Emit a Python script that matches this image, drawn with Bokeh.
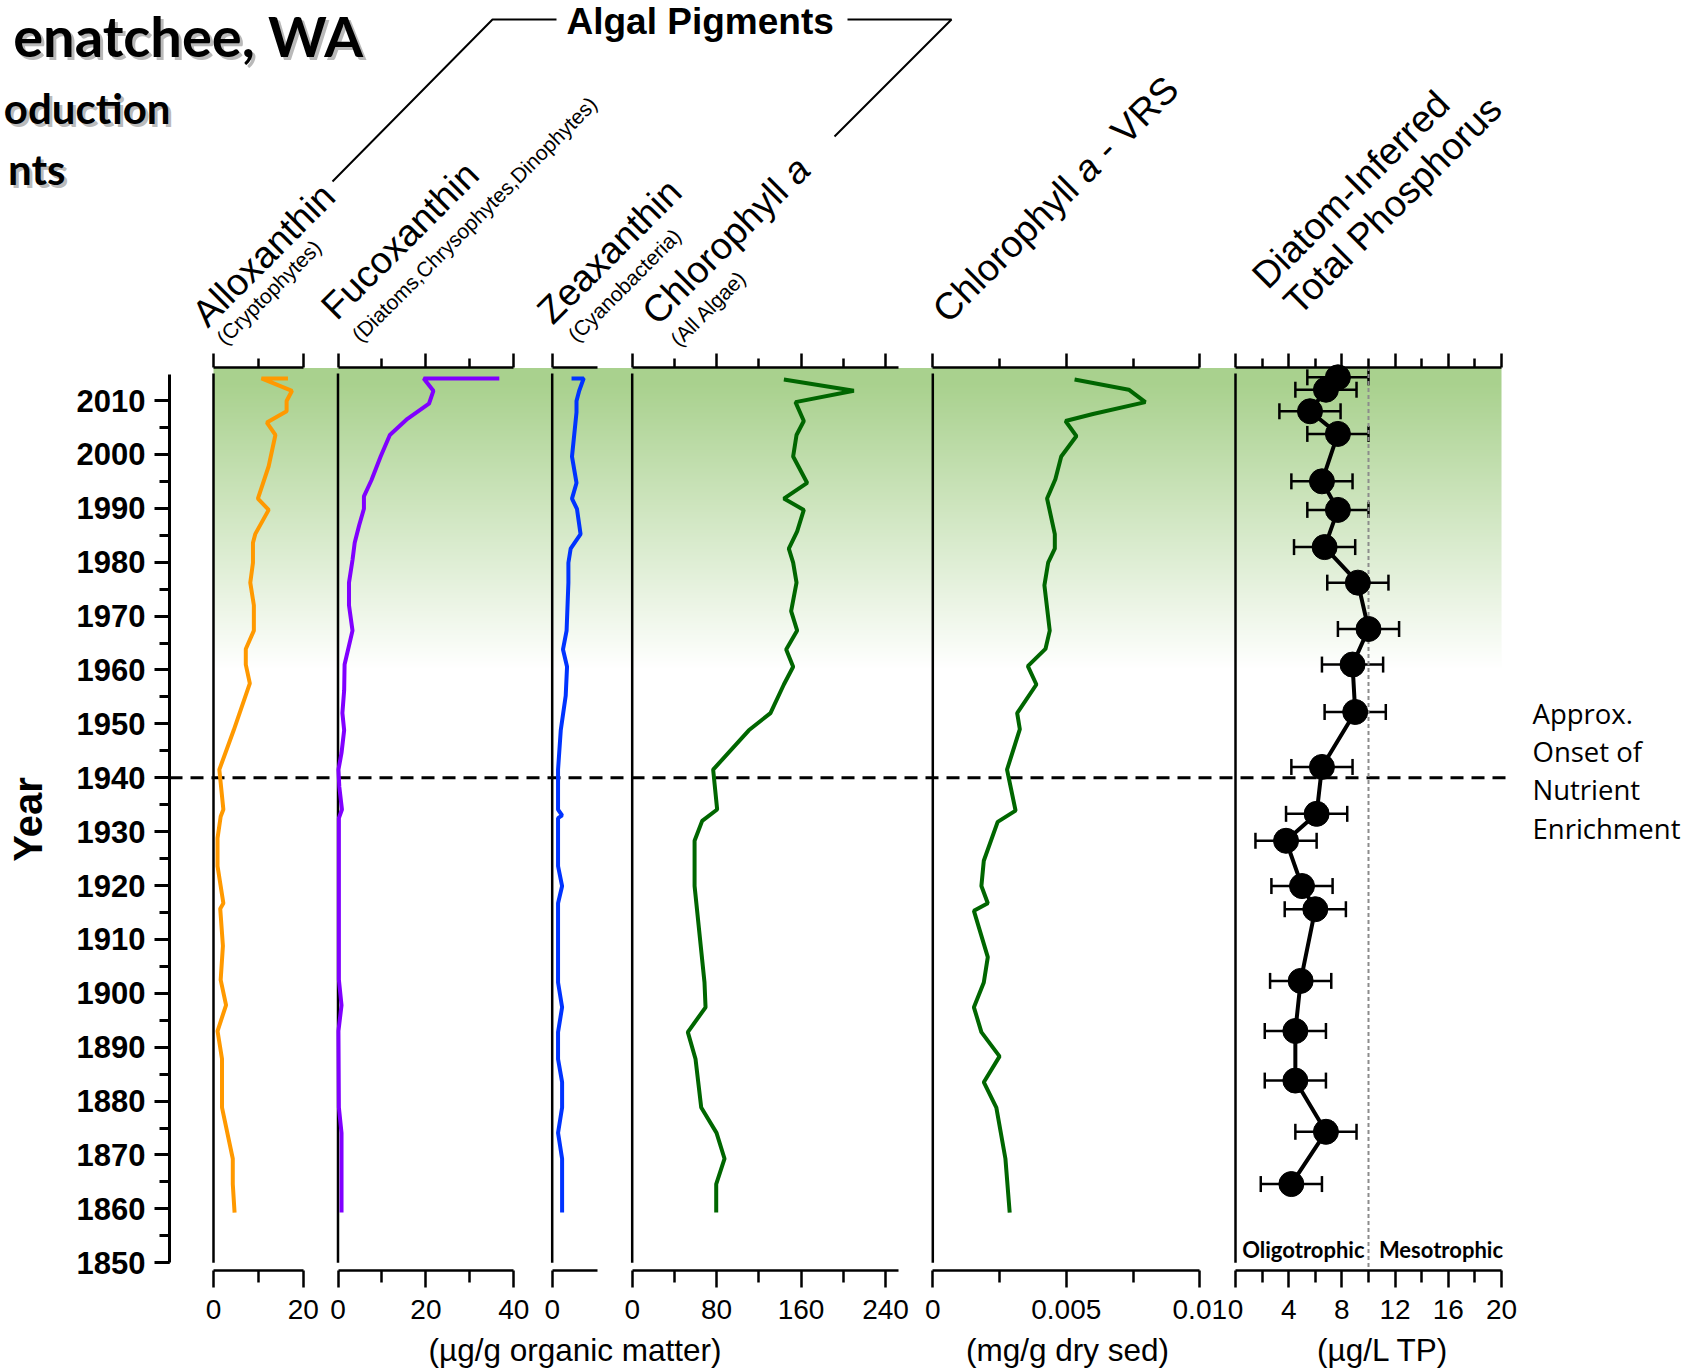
import numpy as np
from math import pi
from bokeh.plotting import figure
from bokeh.models import (Range1d, LinearAxis, FixedTicker, SingleIntervalTicker,
                          CustomJSTickFormatter, ColumnDataSource, Whisker, TeeHead)
from bokeh.core.properties import value
from bokeh.embed import file_html
from bokeh.resources import INLINE

# ---------------- sediment-core data ----------------
allo_year = [2014.1, 2014.1, 2011.8, 2009.9, 2008.0, 2005.9, 2003.6, 1997.8, 1991.8, 1989.7,
             1985.2, 1983.6, 1979.9, 1976.2, 1972.0, 1967.3, 1963.9, 1961.0, 1957.5, 1948.8,
             1941.5, 1934.1, 1932.8, 1928.8, 1923.6, 1916.7, 1915.7, 1908.8, 1902.5, 1897.8,
             1893.0, 1887.8, 1878.8, 1869.3, 1864.6, 1859.3]
allo = [16.6, 10.7, 17.5, 16.3, 16.3, 11.9, 13.8, 12.3, 9.9, 12.3,
        9.3, 8.8, 8.8, 8.2, 9.0, 9.0, 7.2, 7.2, 8.1, 4.5,
        1.3, 2.2, 1.6, 0.9, 0.9, 2.2, 1.5, 2.1, 1.6, 2.8,
        0.9, 1.9, 1.9, 4.3, 4.3, 4.7]

fuco_year = [2014.1, 2014.1, 2011.8, 2009.4, 2006.6, 2003.6, 1999.6, 1995.2, 1992.2, 1989.9,
             1986.8, 1983.6, 1980.4, 1976.2, 1972.0, 1967.3, 1961.0, 1956.2, 1952.0, 1948.8,
             1944.6, 1941.5, 1938.3, 1934.1, 1932.5, 1902.5, 1897.8, 1893.0, 1878.8, 1874.1,
             1859.3]
fuco = [36.7, 19.5, 21.7, 20.7, 15.8, 11.8, 9.7, 7.6, 5.9, 5.9,
        4.8, 3.8, 3.3, 2.5, 2.5, 3.3, 1.5, 1.4, 1.0, 1.4,
        0.8, 0.1, 0.3, 0.9, 0.2, 0.2, 0.8, 0.1, 0.2, 0.8,
        0.8]

zea_year = [2014.1, 2014.1, 2011.8, 2009.9, 2007.8, 1999.6, 1994.7, 1991.8, 1989.9, 1985.2,
            1982.5, 1979.9, 1976.2, 1967.3, 1963.8, 1960.6, 1955.2, 1948.8, 1941.5, 1934.1,
            1933.0, 1932.5, 1923.6, 1919.9, 1916.7, 1902.0, 1897.4, 1892.8, 1887.8, 1883.5,
            1878.8, 1874.1, 1869.3, 1859.3]
zea = [4.3, 7.0, 6.0, 5.4, 5.4, 4.4, 5.4, 4.4, 5.5, 6.3,
       4.1, 3.6, 3.6, 3.2, 2.4, 3.3, 3.0, 1.9, 1.3, 1.3,
       2.2, 1.3, 1.3, 2.2, 1.3, 1.3, 2.2, 1.3, 1.3, 2.2,
       2.2, 1.3, 2.2, 2.2]

chla_year = [2013.9, 2011.8, 2009.7, 2006.2, 2003.6, 1999.6, 1994.7, 1991.8, 1989.7, 1985.7,
             1982.5, 1979.9, 1976.2, 1970.9, 1967.3, 1963.8, 1960.6, 1957.3, 1952.0, 1948.8,
             1941.5, 1934.1, 1932.0, 1928.3, 1919.9, 1902.0, 1897.4, 1892.8, 1887.8, 1878.8,
             1874.1, 1869.3, 1864.6, 1859.3]
chla = [143.7, 210.0, 154.7, 162.6, 155.7, 152.5, 165.8, 143.7, 162.6, 156.3,
        148.4, 152.5, 155.7, 150.6, 156.3, 145.9, 152.5, 143.7, 131.0, 110.5,
        76.7, 80.5, 66.3, 59.1, 59.1, 68.5, 69.5, 52.7, 60.0, 65.4,
        79.9, 87.5, 79.6, 79.6]

vrs_year = [2013.9, 2012.0, 2009.7, 2007.5, 2006.2, 2003.4, 1999.6, 1995.4, 1991.8, 1985.2,
            1982.5, 1979.9, 1975.7, 1967.3, 1963.9, 1960.7, 1957.3, 1952.0, 1949.0, 1941.5,
            1933.9, 1931.8, 1924.6, 1919.9, 1916.7, 1915.3, 1906.7, 1902.0, 1897.4, 1892.8,
            1888.3, 1883.5, 1878.8, 1869.3, 1859.3]
vrs = [0.00531, 0.00734, 0.00796, 0.00600, 0.00497, 0.00538, 0.00481, 0.00459, 0.00428, 0.00457,
       0.00457, 0.00432, 0.00418, 0.00438, 0.00422, 0.00356, 0.00388, 0.00316, 0.00326, 0.00278,
       0.00310, 0.00243, 0.00191, 0.00182, 0.00206, 0.00154, 0.00206, 0.00191, 0.00154, 0.00182,
       0.00250, 0.00191, 0.00238, 0.00272, 0.00288]

tp_year = [2014.3, 2012.0, 2008.0, 2003.8, 1995.0, 1989.7, 1982.8, 1976.2, 1967.6, 1961.0,
           1952.2, 1942.0, 1933.3, 1928.3, 1919.9, 1915.6, 1902.3, 1893.0, 1883.8, 1874.3,
           1864.6]
tp = [7.7, 6.8, 5.6, 7.7, 6.5, 7.7, 6.7, 9.2, 10.0, 8.8,
      9.0, 6.5, 6.1, 3.8, 5.0, 6.0, 4.9, 4.5, 4.5, 6.8,
      4.2]
tp_err = [2.3, 2.3, 2.3, 2.3, 2.3, 2.3, 2.3, 2.3, 2.3, 2.3,
          2.3, 2.3, 2.3, 2.3, 2.3, 2.3, 2.3, 2.3, 2.3, 2.3,
          2.3]

ONSET_YEAR = 1940
TROPHIC_LIMIT = 10  # ug/L TP, oligotrophic / mesotrophic boundary

allo_ticks, allo_minor = [0, 20], [10]
fuco_ticks, fuco_minor = [0, 20, 40], [10, 30]
zea_ticks, zea_minor = [0], []
chla_ticks, chla_minor = [0, 80, 160, 240], [40, 120, 200]
vrs_ticks, vrs_minor = [0, 0.005, 0.01], [0.0025, 0.0075]
tp_ticks, tp_minor = [0, 4, 8, 12, 16, 20], [2, 6, 10, 14, 18]

# ---------------- canvas geometry ----------------
W, H = 1687, 1372
PX_PER_YEAR = 5.389
ROW_2010 = 400.0


def yr(row):
    """canvas row (from the top) -> year on the core axis"""
    return 2010.0 - (row - ROW_2010) / PX_PER_YEAR


def up(row):
    """canvas row (from the top) -> bottom-up pixel for the 'px' range"""
    return H - row


# value span of each panel and the canvas columns it occupies
PANELS = {
    "allo": ((0, 20), (213.0, 302.7)),
    "fuco": ((0, 40), (337.5, 513.3)),
    "zea": ((0, 10), (551.7, 596.7)),
    "chla": ((0, 240), (631.7, 885.0)),
    "vrs": ((0, 0.01), (932.3, 1199.3)),
    "tp": ((0, 20), (1235.0, 1501.0)),
}
AXIS_END = {"allo": 20, "fuco": 40, "zea": 10, "chla": 252, "vrs": 0.01, "tp": 20}


def panel_range(vals, cols):
    (d0, d1), (c0, c1) = vals, cols
    k = (d1 - d0) / (c1 - c0)
    return Range1d(d0 - c0 * k, d0 + (W - c0) * k)


p = figure(width=W, height=H, x_range=Range1d(0, W), y_range=Range1d(yr(H), yr(0)),
           x_axis_type=None, y_axis_type=None, toolbar_location=None,
           output_backend="svg", min_border=0, outline_line_color=None,
           background_fill_color="white", border_fill_color="white")
p.extra_x_ranges = {k: panel_range(*v) for k, v in PANELS.items()}
p.extra_y_ranges = {"px": Range1d(0, H)}

ARIAL_NAME = "Liberation Sans"
ARIAL = value(ARIAL_NAME)
LATO = value("Lato")
OPEN = value("Open Sans")

# ---------------- recent-enrichment shading ----------------
GREEN = (169, 209, 142)
fade_top, fade_bottom = 2013.0, 1960.0
g_top, g_bot = yr(367.5), 1955.0
n = 400
ys = np.linspace(g_bot, g_top, n)
frac = np.clip((fade_top - ys) / (fade_top - fade_bottom), 0, 1)
img = np.zeros((n, 2), dtype=np.uint32)
view = img.view(np.uint8).reshape(n, 2, 4)
for i, c in enumerate(GREEN):
    view[:, :, i] = np.round(c + (255 - c) * frac)[:, None]
view[:, :, 3] = 255
g_left = PANELS["allo"][1][0]
g_right = PANELS["tp"][1][1]
p.image_rgba(image=[img], x=g_left, y=g_bot, dw=g_right - g_left, dh=g_top - g_bot,
             level="image")

# ---------------- panel baselines and axes ----------------
TOP_ROW, BOT_ROW = 366.5, 1269.5
for name in PANELS:
    p.segment(x0=[0], y0=[1850], x1=[0], y1=[2015], x_range_name=name,
              line_color="black", line_width=2.5)

TICKS = {
    "allo": (allo_ticks, allo_minor),
    "fuco": (fuco_ticks, fuco_minor),
    "zea": (zea_ticks, zea_minor),
    "chla": (chla_ticks, chla_minor),
    "vrs": (vrs_ticks, vrs_minor),
    "tp": (tp_ticks, tp_minor),
}
for name, (major, minor) in TICKS.items():
    for side, row, t_major, t_minor in (("above", TOP_ROW, 14, 9), ("below", BOT_ROW, 17, 12)):
        ax = LinearAxis(x_range_name=name, fixed_location=yr(row),
                        bounds=(0, AXIS_END[name]),
                        ticker=FixedTicker(ticks=major, minor_ticks=minor),
                        axis_line_width=2.5, axis_line_color="black",
                        major_tick_line_width=2.5, minor_tick_line_width=2.5,
                        major_tick_out=t_major, major_tick_in=0,
                        minor_tick_out=t_minor, minor_tick_in=0,
                        major_label_text_font=ARIAL_NAME, major_label_text_font_size="28px",
                        major_label_text_color="black", major_label_standoff=13)
        if name == "vrs":
            ax.formatter = CustomJSTickFormatter(code="return tick.toString()")
        if side == "above":
            ax.major_label_text_color = None
        p.add_layout(ax, side)

yax = LinearAxis(fixed_location=169, bounds=(1850, 2014.9),
                 ticker=SingleIntervalTicker(interval=10, num_minor_ticks=2),
                 axis_line_width=3, major_tick_line_width=3, minor_tick_line_width=3,
                 major_tick_out=15, major_tick_in=0, minor_tick_out=10, minor_tick_in=0,
                 major_label_text_font=ARIAL_NAME, major_label_text_font_style="bold",
                 major_label_text_font_size="31px", major_label_standoff=9,
                 major_label_text_color="black")
p.add_layout(yax, "left")

# ---------------- reference lines ----------------
p.line(x=[169, 1505], y=[ONSET_YEAR, ONSET_YEAR], line_color="black", line_width=3,
       line_dash="13 8")
p.line(x=[TROPHIC_LIMIT, TROPHIC_LIMIT], y=[yr(TOP_ROW), 1849.2], x_range_name="tp",
       line_color="#8c8c8c", line_width=2, line_dash="4 3")

# ---------------- pigment profiles ----------------
p.line(allo, allo_year, x_range_name="allo", line_color="#FF9900", line_width=4)
p.line(fuco, fuco_year, x_range_name="fuco", line_color="#8000FF", line_width=4)
p.line(zea, zea_year, x_range_name="zea", line_color="#0033FF", line_width=4)
p.line(chla, chla_year, x_range_name="chla", line_color="#006600", line_width=4)
p.line(vrs, vrs_year, x_range_name="vrs", line_color="#006600", line_width=4)

# ---------------- diatom-inferred TP ----------------
tp_src = ColumnDataSource(dict(
    year=tp_year, tp=tp,
    lo=[v - e for v, e in zip(tp, tp_err)],
    hi=[v + e for v, e in zip(tp, tp_err)],
))
p.add_layout(Whisker(source=tp_src, base="year", lower="lo", upper="hi", dimension="width",
                     line_color="black", line_width=2.5, x_range_name="tp",
                     lower_head=TeeHead(size=16, line_width=2.5, line_color="black"),
                     upper_head=TeeHead(size=16, line_width=2.5, line_color="black")))
p.line("tp", "year", source=tp_src, x_range_name="tp", line_color="black", line_width=4)
p.scatter("tp", "year", source=tp_src, x_range_name="tp", size=25,
          fill_color="black", line_color="black")

# ---------------- headers ----------------
R45 = pi / 4
D45 = 0.70710678
HEAD_PX = 37.5
SUB_PX = 21.0


def along(x, row, dist):
    return x + dist * D45, row - dist * D45


def shifted(pts, dx, drow):
    return [(a + dx, b + drow) for a, b in pts]


chl_at = (648, 317)
vrs_at = (938.5, 315)
head_txt = ["Alloxanthin", "Fucoxanthin", "Zeaxanthin", "Chlorophyll ", "Chlorophyll ",
            "- VRS", "Diatom-Inferred", "Total Phosphorus"]
head_pos = shifted([(194, 325), (323, 318), (539, 322)], 4, -6) + [chl_at, vrs_at,
            along(*vrs_at, 229.3)] + shifted([(1254, 287), (1285.5, 313)], 4, -6)
p.text(x=[a for a, b in head_pos], y=[up(b) for a, b in head_pos], text=head_txt,
       angle=R45, text_font=ARIAL, text_font_size=f"{HEAD_PX}px", text_color="black",
       text_align="left", text_baseline="alphabetic", y_range_name="px")
ital_pos = [along(*chl_at, 198.0), along(*vrs_at, 198.0)]
p.text(x=[a for a, b in ital_pos], y=[up(b) for a, b in ital_pos], text=["a", "a"],
       angle=R45, text_font=ARIAL, text_font_size=f"{HEAD_PX}px", text_font_style="italic",
       text_color="black", text_align="left", text_baseline="alphabetic", y_range_name="px")

sub_txt = ["(Cryptophytes)", "(Diatoms,Chrysophytes,Dinophytes)", "(Cyanobacteria)",
           "(All Algae)"]
sub_pos = shifted([(216.5, 343), (352, 340), (568, 340), (670.5, 344.5)], 3, -2.5)
p.text(x=[a for a, b in sub_pos], y=[up(b) for a, b in sub_pos], text=sub_txt,
       angle=R45, text_font=ARIAL, text_font_size=f"{SUB_PX}px", text_color="black",
       text_align="left", text_baseline="alphabetic", y_range_name="px")


def htext(x, rows, texts, font, size, align="left", style="normal", color="black", alpha=1.0):
    p.text(x=x, y=[up(r) for r in rows], text=texts, text_font=font,
           text_font_size=f"{size}px", text_font_style=style, text_color=color,
           text_alpha=alpha, text_align=align, text_baseline="middle", y_range_name="px")


# "Algal Pigments" bracket
htext([566], [20.5], ["Algal Pigments"], ARIAL, 37, style="bold")
p.line(x=[332, 492, 556], y=[up(181), up(19), up(19)], y_range_name="px",
       line_color="black", line_width=2)
p.line(x=[834, 951, 847], y=[up(136), up(19), up(19)], y_range_name="px",
       line_color="black", line_width=2)

# title block (drop-shadowed)
title_txt = ["enatchee, WA", "oduction", "nts"]
title_x = [363, 170, 65]
title_row = [34.5, 107, 168.5]
title_size = [56, 42, 42]
for t, x, r, s in zip(title_txt, title_x, title_row, title_size):
    htext([x + 3], [r + 3], [t], LATO, s, align="right", style="bold",
          color="#7f7f7f", alpha=0.55)
    htext([x], [r], [t], LATO, s, align="right", style="bold")

# axis titles
p.text(x=[27.5], y=[up(819)], text=["Year"], angle=pi / 2, text_font=ARIAL,
       text_font_style="bold", text_font_size="40px", text_color="black",
       text_align="center", text_baseline="middle", y_range_name="px")
htext([574.5, 1067, 1382.5], [1349] * 3,
      ["(\u00b5g/g organic matter)", "(mg/g dry sed)", "(\u00b5g/L TP)"],
      ARIAL, 31.5, align="center")

# trophic-state and onset annotations
htext([1241.7, 1378.4], [1248.5] * 2, ["Oligotrophic", "Mesotrophic"], LATO, 22,
      style="bold")
htext([1532] * 4, [713.3, 751.3, 789.3, 827.8],
      ["Approx.", "Onset of", "Nutrient", "Enrichment"], OPEN, 27.5)

open("out.html", "w").write(file_html(p, INLINE))
